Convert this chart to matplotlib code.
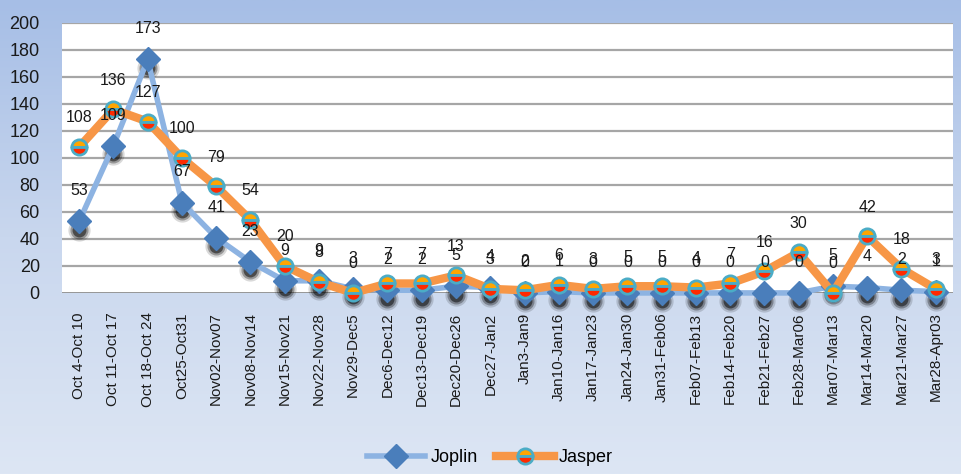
import matplotlib
matplotlib.use("Agg")
import matplotlib.pyplot as plt
import matplotlib.transforms as mtrans
from matplotlib.colors import LinearSegmentedColormap
import numpy as np

weeks = [
    "Oct 4-Oct 10", "Oct 11-Oct 17", "Oct 18-Oct 24", "Oct25-Oct31",
    "Nov02-Nov07", "Nov08-Nov14", "Nov15-Nov21", "Nov22-Nov28",
    "Nov29-Dec5", "Dec6-Dec12", "Dec13-Dec19", "Dec20-Dec26",
    "Dec27-Jan2", "Jan3-Jan9", "Jan10-Jan16", "Jan17-Jan23",
    "Jan24-Jan30", "Jan31-Feb06", "Feb07-Feb13", "Feb14-Feb20",
    "Feb21-Feb27", "Feb28-Mar06", "Mar07-Mar13", "Mar14-Mar20",
    "Mar21-Mar27", "Mar28-Apr03",
]
joplin = [53, 109, 173, 67, 41, 23, 9, 9, 3, 2, 2, 5, 4, 0, 1, 0,
          0, 0, 0, 0, 0, 0, 5, 4, 2, 1]
jasper = [108, 136, 127, 100, 79, 54, 20, 8, 0, 7, 7, 13, 3, 2, 6, 3,
          5, 5, 4, 7, 16, 30, 0, 42, 18, 3]
yticks = list(range(0, 201, 20))

FONT = "Liberation Sans"

fig = plt.figure(figsize=(9.61, 4.74), dpi=100)

# gradient background over the whole figure
bg = fig.add_axes([0, 0, 1, 1], zorder=-10)
grad = np.linspace(0, 1, 256).reshape(-1, 1)
cmap = LinearSegmentedColormap.from_list("bg", ["#a6bee6", "#c9d7ee", "#dde6f4"])
bg.imshow(grad, aspect="auto", cmap=cmap, extent=[0, 1, 0, 1])
bg.axis("off")

ax = fig.add_axes([0.0645, 0.382, 0.927, 0.5695])
ax.set_facecolor("white")
x = np.arange(len(weeks))

for v in yticks[1:]:
    ax.axhline(v, color="#a6a6a6", lw=1.6, zorder=1)
ax.axhline(0, color="#8c8c8c", lw=2, zorder=1)

# soft dark shadow under the Joplin diamonds
for ms, dy, a in [(16, -6, 0.15), (13, -6, 0.3), (10, -6, 0.5)]:
    sh = mtrans.offset_copy(ax.transData, fig=fig, x=0, y=dy, units="points")
    ax.plot(x, joplin, ls="none", marker="o", ms=ms, color="black",
            alpha=a, mec="none", transform=sh, zorder=2, clip_on=False)

ax.plot(x, joplin, color="#8db3e2", lw=4, marker="D", ms=12,
        mfc="#4a7ebb", mec="#4a7ebb", zorder=3, label="Joplin", clip_on=False)
ax.plot(x, jasper, color="#f79646", lw=6, marker="o", ms=11,
        fillstyle="top", mfc="#ffa500", mfcalt="#ff2a00",
        mec="#4bacc6", mew=2, zorder=4, label="Jasper", clip_on=False)

for xi, v in zip(x, joplin):
    ax.annotate(str(v), (xi, v), xytext=(0, 22), textcoords="offset points",
                ha="center", va="center", fontsize=11.5, family=FONT,
                color="#1a1a1a", zorder=6, annotation_clip=False)
for xi, v in zip(x, jasper):
    ax.annotate(str(v), (xi, v), xytext=(0, 21), textcoords="offset points",
                ha="center", va="center", fontsize=11.5, family=FONT,
                color="#1a1a1a", zorder=6, annotation_clip=False)

ax.set_xlim(-0.5, len(weeks) - 0.5)
ax.set_ylim(0, 200)
ax.set_yticks(yticks)
ax.set_yticklabels([str(v) for v in yticks], family=FONT, fontsize=13,
                   color="#1a1a1a")
ax.set_xticks(x)
ax.set_xticklabels(weeks, rotation=90, fontsize=11, family=FONT,
                   color="#1a1a1a")
ax.tick_params(axis="y", length=0, pad=16)
ax.tick_params(axis="x", length=0, pad=14)
for s in ax.spines.values():
    s.set_visible(False)

leg = fig.legend(loc="center", bbox_to_anchor=(0.51, 0.035), ncol=2,
                 frameon=False, prop={"family": FONT, "size": 13},
                 handlelength=3.2, columnspacing=1.0, handletextpad=0.3)

fig.savefig("out.png", dpi=100)
